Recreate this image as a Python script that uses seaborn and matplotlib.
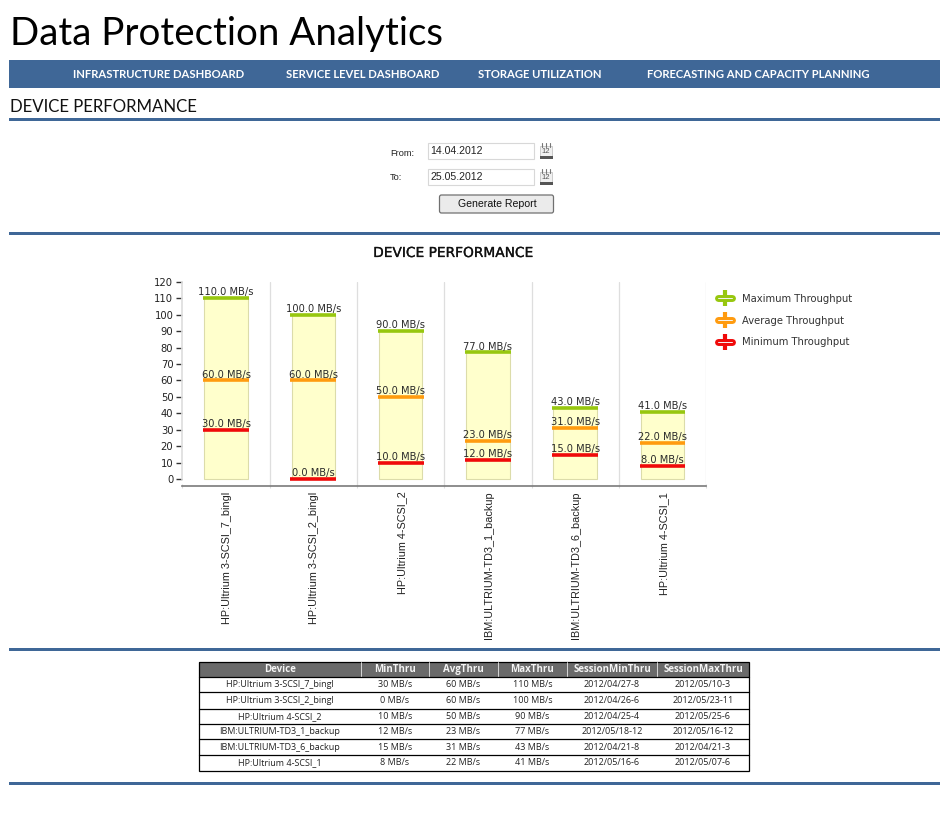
import matplotlib
matplotlib.use("Agg")
import matplotlib.patheffects as pe
import matplotlib.pyplot as plt
import pandas as pd
import seaborn as sns
from matplotlib.legend_handler import HandlerTuple
from matplotlib.lines import Line2D
from matplotlib.patches import FancyBboxPatch, Rectangle

W, H = 949, 817

devices = ["HP:Ultrium 3-SCSI_7_bingl", "HP:Ultrium 3-SCSI_2_bingl", "HP:Ultrium 4-SCSI_2",
           "IBM:ULTRIUM-TD3_1_backup", "IBM:ULTRIUM-TD3_6_backup", "HP:Ultrium 4-SCSI_1"]
min_thru = [30, 0, 10, 12, 15, 8]
avg_thru = [60, 60, 50, 23, 31, 22]
max_thru = [110, 100, 90, 77, 43, 41]
session_min = ["2012/04/27-8", "2012/04/26-6", "2012/04/25-4", "2012/05/18-12", "2012/04/21-8", "2012/05/16-6"]
session_max = ["2012/05/10-3", "2012/05/23-11", "2012/05/25-6", "2012/05/16-12", "2012/04/21-3", "2012/05/07-6"]
y_ticks = list(range(0, 121, 10))
nav_items = ["INFRASTRUCTURE DASHBOARD", "SERVICE LEVEL DASHBOARD", "STORAGE UTILIZATION",
             "FORECASTING AND CAPACITY PLANNING"]
table_columns = ["Device", "MinThru", "AvgThru", "MaxThru", "SessionMinThru", "SessionMaxThru"]

BLUE = "#3f6797"
GREEN = "#97c70f"
ORANGE = "#ff9b0f"
RED = "#f00a0a"
series = [("Maximum Throughput", max_thru, GREEN),
          ("Average Throughput", avg_thru, ORANGE),
          ("Minimum Throughput", min_thru, RED)]

sns.set_theme(style="white")
plt.rcParams["font.family"] = ["DejaVu Sans"]

fig = plt.figure(figsize=(W / 100, H / 100), dpi=100, facecolor="white")

# page layer, coordinates are pixels of the screenshot
page = fig.add_axes([0, 0, 1, 1])
page.set_xlim(0, W)
page.set_ylim(H, 0)
page.axis("off")


def rect(x0, y0, x1, y1, **kw):
    kw.setdefault("linewidth", 0)
    page.add_patch(Rectangle((x0, y0), x1 - x0, y1 - y0, **kw))


page.text(10, 45, "Data Protection Analytics", fontsize=27.7, family="Lato", va="baseline", color="black")

rect(9, 60, 940, 88, facecolor=BLUE)
for label, x in zip(nav_items, [158.5, 362.5, 540, 758]):
    page.text(x, 74, label, color="white", fontsize=8.1, family="Lato", weight="bold", ha="center", va="center")

page.text(10, 112, "DEVICE PERFORMANCE", fontsize=12.1, family="Lato", va="baseline", color="#111111")

for y in [119.5, 233, 649.5, 783]:
    rect(9, y - 1.5, 940, y + 1.5, facecolor=BLUE)

# date form
page.text(390, 153, "From:", fontsize=6.7, family="Liberation Sans", va="center", color="#222222")
page.text(390, 177, "To:", fontsize=6.7, family="Liberation Sans", va="center", color="#222222")
for y, value in [(150.5, "14.04.2012"), (176.5, "25.05.2012")]:
    rect(428, y - 8, 534.5, y + 8, facecolor="white", edgecolor="#d8d8d8", linewidth=0.8)
    page.text(430.5, y, value, fontsize=7.6, family="Liberation Sans", va="center", color="#222222")
    # calendar icon
    top = y - 8
    rect(540, top + 3, 552, top + 13, facecolor="#f0f0f0", edgecolor="#c4c4c4", linewidth=0.6)
    rect(540, top + 13, 553, top + 16, facecolor="#555555")
    for rx in [542, 546, 550]:
        page.plot([rx, rx], [top, top + 4], color="#777777", lw=0.8)
    page.text(546, top + 8.5, "12", fontsize=5.5, family="Liberation Sans", ha="center", va="center", color="#555555")
page.add_patch(FancyBboxPatch((439.5, 195), 114, 18, boxstyle="round,pad=0,rounding_size=2",
                              facecolor="#ebebeb", edgecolor="#707070", linewidth=0.9))
page.text(497, 203.5, "Generate Report", fontsize=7.6, family="Liberation Sans", ha="center", va="center",
          color="#111111")

page.text(453, 253, "DEVICE PERFORMANCE", fontsize=9.9, family="DejaVu Sans", ha="center", va="center",
          color="#111111", path_effects=[pe.withStroke(linewidth=0.2, foreground="#111111")])

# chart
df = pd.DataFrame({"device": devices, "max_thru": max_thru})
ax = fig.add_axes([182.4 / W, 1 - 485.7 / H, (706.2 - 182.4) / W, (485.7 - 281.7) / H])
ax.patch.set_alpha(0)
sns.barplot(data=df, x="device", y="max_thru", width=0.5, color="#ffffcc", edgecolor="#dcdcaa",
            linewidth=0.8, saturation=1, ax=ax, zorder=2)
for name, values, color in series:
    for i, v in enumerate(values):
        ax.hlines(v, i - 0.262, i + 0.262, color=color, linewidth=2.6, zorder=3, clip_on=False)
        ax.text(i, v + 0.6, f"{v:.1f} MB/s", fontsize=7.1, ha="center", va="bottom", color="#2a2a2a", zorder=4)

ax.set_xlim(-0.5, 5.5)
ax.set_ylim(-3.9, 120)
ax.set_xlabel("")
ax.set_ylabel("")
ax.set_yticks(y_ticks)
ax.tick_params(axis="y", length=4.5, width=1, color="#333333", labelsize=7.2, labelcolor="#222222", pad=2,
               direction="out", left=True)
ax.set_xticks(range(len(devices)))
ax.set_xticklabels([])
ax.tick_params(axis="x", which="major", length=0, pad=0)
ax.set_xticks([i - 0.5 for i in range(len(devices) + 1)], minor=True)
ax.tick_params(axis="x", which="minor", length=3, width=0.8, color="#dcdcdc", direction="inout", bottom=True)
for i, label in enumerate(devices):
    ax.annotate(label, xy=(i, 0), xycoords=("data", "axes fraction"), xytext=(0.8, -4.3), textcoords="offset points",
                rotation=90, ha="center", va="top", fontsize=7.8, family="Liberation Sans", color="#222222")
for i in range(1, len(devices) + 1):
    ax.axvline(i - 0.5, color="#dedede", linewidth=0.9, zorder=1)
for side in ["top", "right"]:
    ax.spines[side].set_visible(False)
ax.spines["left"].set_color("#dedede")
ax.spines["left"].set_bounds(0, 120)
ax.spines["bottom"].set_color("#7a7a7a")
ax.spines["bottom"].set_linewidth(1.2)

handles = [(Line2D([], [], color=c, lw=5, marker="|", ms=11, mew=3, solid_capstyle="round"),
            Line2D([], [], color="#f4f4f4", lw=0.7)) for _, _, c in series]
ax.legend(handles, [s[0] for s in series], handler_map={tuple: HandlerTuple(ndivide=1, pad=0)},
          loc="upper left", bbox_to_anchor=(1.0087, 0.975), frameon=False, fontsize=7.2, handlelength=1.4,
          handletextpad=1.0, labelspacing=1.18, borderaxespad=0.3, labelcolor="#333333")

# table
col_edges = [199, 361, 429, 498, 567, 657, 749]
row_edges = [662, 677, 692, 709, 724, 739, 755, 770.5]
rect(col_edges[0], row_edges[0], col_edges[-1], row_edges[1], facecolor="#6a6a6a")
for x in col_edges[1:-1]:
    page.plot([x, x], [row_edges[0], row_edges[1]], color="#e8e8e8", lw=0.6)
table_rows = list(zip(devices, [f"{v} MB/s" for v in min_thru], [f"{v} MB/s" for v in avg_thru],
                      [f"{v} MB/s" for v in max_thru], session_min, session_max))
centers = [(a + b) / 2 for a, b in zip(col_edges, col_edges[1:])]
for cx, name in zip(centers, table_columns):
    page.text(cx, (row_edges[0] + row_edges[1]) / 2, name, color="#f4f4f4", fontsize=7, family="Open Sans",
              weight="bold", ha="center", va="center")
for r, row in enumerate(table_rows):
    y = (row_edges[r + 1] + row_edges[r + 2]) / 2
    for cx, val in zip(centers, row):
        page.text(cx, y, val, color="#222222", fontsize=6.5, family="Open Sans", ha="center", va="center")
    page.plot([col_edges[0], col_edges[-1]], [row_edges[r + 1]] * 2, color="black", lw=0.9)
rect(col_edges[0], row_edges[0], col_edges[-1], row_edges[-1], facecolor="none", edgecolor="black", linewidth=0.9)

fig.savefig("out.png", dpi=100)
